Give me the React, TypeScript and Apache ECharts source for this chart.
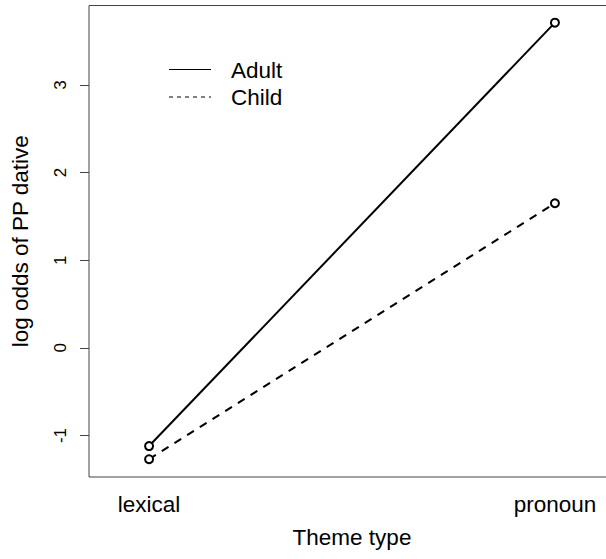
import React, { useEffect, useRef } from "react";
import * as echarts from "echarts";

const categories = ["lexical", "pronoun"];
const categoryPositions = [1, 2];
const adultValues = [-1.12, 3.71];
const childValues = [-1.27, 1.65];
const yTicks = [-1, 0, 1, 2, 3];
const seriesNames = ["Adult", "Child"];

const FONT = "'Liberation Sans', Arial, sans-serif";
const BIG = 22.5;

export default function App() {
  const ref = useRef<HTMLDivElement>(null);
  useEffect(() => {
    document.body.style.margin = "0";
    const chart = echarts.init(ref.current!, undefined, { renderer: "svg" });
    const mk = (vals: number[]) => categoryPositions.map((x, i) => [x, vals[i]]);
    chart.setOption({
      animation: false,
      backgroundColor: "#fff",
      textStyle: { fontFamily: FONT },
      grid: {
        left: 89,
        top: 5.5,
        width: 526,
        height: 471.5,
        outerBoundsMode: "none",
        containLabel: false,
        show: true,
        borderColor: "#444",
        borderWidth: 1,
        backgroundColor: "transparent",
      },
      xAxis: {
        type: "value",
        min: 0.852,
        max: 2.148,
        name: "Theme type",
        nameLocation: "middle",
        nameGap: 49,
        nameTextStyle: { fontSize: BIG, color: "#000", fontFamily: FONT },
        axisLine: { show: false },
        axisTick: { show: false },
        splitLine: { show: false },
        axisLabel: {
          customValues: categoryPositions,
          formatter: (v: number) => categories[categoryPositions.indexOf(v)] ?? "",
          fontSize: BIG,
          color: "#000",
          margin: 16,
          fontFamily: FONT,
        },
      },
      yAxis: {
        type: "value",
        min: -1.473,
        max: 3.906,
        name: "log odds of PP dative",
        nameLocation: "middle",
        nameRotate: 90,
        nameGap: 57,
        nameTextStyle: { fontSize: BIG, color: "#000", fontFamily: FONT },
        axisLine: { show: false },
        splitLine: { show: false },
        axisTick: {
          show: true,
          customValues: yTicks,
          length: 9,
          lineStyle: { color: "#444", width: 1 },
        },
        axisLabel: {
          customValues: yTicks,
          rotate: 90,
          fontSize: 17,
          color: "#000",
          margin: 20,
          fontFamily: FONT,
        },
      },
      series: [
        {
          name: seriesNames[0],
          type: "line",
          data: mk(adultValues),
          symbol: "emptyCircle",
          symbolSize: 8,
          lineStyle: { color: "#000", width: 2 },
          itemStyle: { color: "#000", borderWidth: 2 },
        },
        {
          name: seriesNames[1],
          type: "line",
          data: mk(childValues),
          symbol: "emptyCircle",
          symbolSize: 8,
          lineStyle: { color: "#000", width: 2, type: [8, 7] },
          itemStyle: { color: "#000", borderWidth: 2 },
        },
      ],
      graphic: [
        {
          type: "line",
          shape: { x1: 169, y1: 69.5, x2: 211, y2: 69.5 },
          style: { stroke: "#000", lineWidth: 1 },
        },
        {
          type: "line",
          shape: { x1: 169, y1: 97, x2: 211, y2: 97 },
          style: { stroke: "#000", lineWidth: 1, lineDash: [4, 4] },
        },
        {
          type: "text",
          x: 231,
          y: 70,
          style: {
            text: seriesNames[0],
            fontSize: BIG,
            fontFamily: FONT,
            fill: "#000",
            verticalAlign: "middle",
          },
        },
        {
          type: "text",
          x: 231,
          y: 97,
          style: {
            text: seriesNames[1],
            fontSize: BIG,
            fontFamily: FONT,
            fill: "#000",
            verticalAlign: "middle",
          },
        },
      ],
    });
    return () => chart.dispose();
  }, []);
  return (
    <div
      ref={ref}
      style={{ position: "absolute", left: 0, top: 0, width: 606, height: 559 }}
    />
  );
}
